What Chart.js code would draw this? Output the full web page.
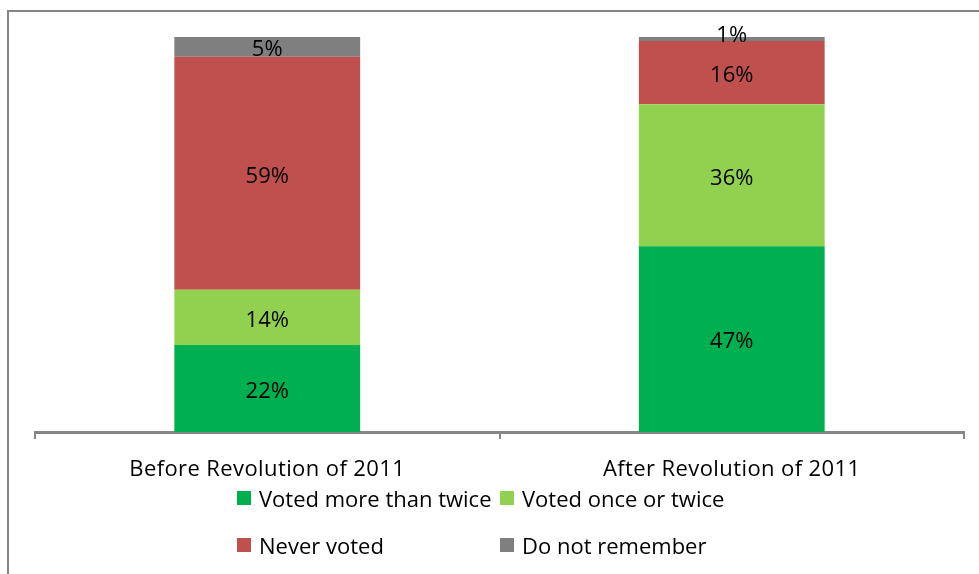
<!DOCTYPE html>
<html>
<head>
<meta charset="utf-8">
<script src="https://cdn.jsdelivr.net/npm/chart.js@4/dist/chart.umd.min.js"></script>
<style>
  html, body { margin: 0; padding: 0; background: #fff; }
  #wrap { position: relative; width: 979px; height: 574px; overflow: hidden; }
  #frame { position: absolute; left: 7px; top: 10px; width: 1100px; height: 700px; border: 2px solid #868686; box-sizing: border-box; }
  #votes { position: absolute; left: 0; top: 0; }
  .legend { position: absolute; left: 237px; top: 484px; display: grid; grid-template-columns: 263px auto; row-gap: 19px;
            font-family: "Open Sans", sans-serif; font-size: 22px; color: #000; }
  .legend div { display: flex; align-items: center; height: 28px; white-space: nowrap; }
  .legend span.box { display: inline-block; width: 14px; height: 14px; margin-right: 8px; }
</style>
</head>
<body>
<div id="wrap">
  <div id="frame"></div>
  <canvas id="votes" width="979" height="574"></canvas>
  <div class="legend" id="legend"></div>
</div>
<script>
(function() {
    const categories = ['Before Revolution of 2011', 'After Revolution of 2011'];
    const seriesNames = ['Voted more than twice', 'Voted once or twice', 'Never voted', 'Do not remember'];
    const votedMoreThanTwice = [22, 47];
    const votedOnceOrTwice = [14, 36];
    const neverVoted = [59, 16];
    const doNotRemember = [5, 1];
    const colors = ['#00B050', '#92D050', '#C0504D', '#7F7F7F'];

    const values = [votedMoreThanTwice, votedOnceOrTwice, neverVoted, doNotRemember];
    const font = '"Open Sans", sans-serif';

    const barLabels = {
        id: 'barLabels',
        afterDatasetsDraw(chart) {
            const ctx = chart.ctx;
            ctx.save();
            ctx.font = '22px ' + font;
            ctx.fillStyle = '#000';
            ctx.textAlign = 'center';
            ctx.textBaseline = 'middle';
            chart.data.datasets.forEach((ds, i) => {
                chart.getDatasetMeta(i).data.forEach((bar, j) => {
                    let y = (bar.y + bar.base) / 2 + 3;
                    if (Math.abs(bar.base - bar.y) < 10) y -= 6;
                    ctx.fillText(ds.data[j] + '%', bar.x, y);
                });
            });
            ctx.restore();
        }
    };

    // a bit of extra tracking on the category labels
    const tracking = {
        id: 'tracking',
        beforeDraw(chart) { chart.ctx.letterSpacing = '0.4px'; },
        afterDatasetsDraw(chart) { chart.ctx.letterSpacing = '0px'; }
    };

    const ctx = document.getElementById('votes').getContext('2d');

    const votesChart = new Chart(ctx, {
        type: 'bar',
        data: {
            labels: categories,
            datasets: seriesNames.map((name, i) => ({
                label: name,
                data: values[i],
                backgroundColor: colors[i],
                barPercentage: 0.4,
                categoryPercentage: 1
            }))
        },
        options: {
            responsive: false,
            animation: false,
            layout: { padding: { left: 35, right: 15, top: 37, bottom: 0 } },
            plugins: { legend: { display: false }, tooltip: { enabled: false } },
            scales: {
                x: {
                    stacked: true,
                    afterFit: scale => { scale.height = 142; },
                    grid: { drawOnChartArea: false, drawTicks: true, tickLength: 7, color: '#868686', lineWidth: 2 },
                    border: { color: '#868686', width: 3 },
                    ticks: { color: '#000', font: { family: font, size: 22 }, padding: 18 }
                },
                y: {
                    stacked: true,
                    display: false,
                    min: 0,
                    max: 100
                }
            }
        },
        plugins: [tracking, barLabels]
    });

    const legend = document.getElementById('legend');
    seriesNames.forEach((name, i) => {
        const item = document.createElement('div');
        item.innerHTML = '<span class="box" style="background:' + colors[i] + '"></span>' + name;
        legend.appendChild(item);
    });
})();
</script>
</body>
</html>
